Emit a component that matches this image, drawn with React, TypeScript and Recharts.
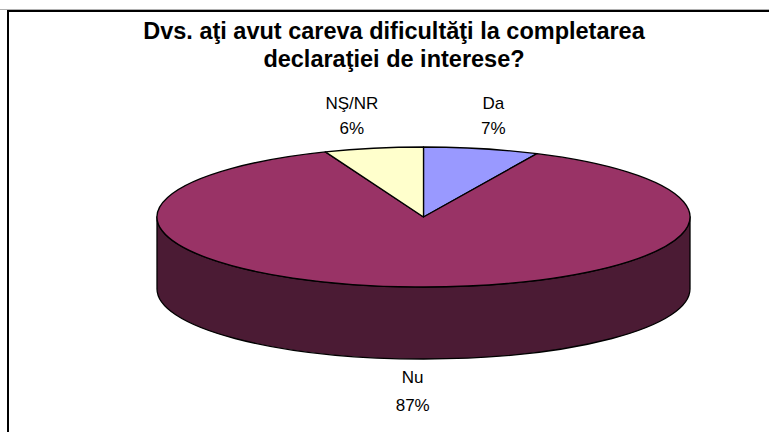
import React from "react";
import { PieChart, Pie } from "recharts";

const categories = ["Da", "Nu", "NŞ/NR"];
const values = [7, 87, 6];
const topColors = ["#9999FF", "#993366", "#FFFFCC"];
const sideColors = ["#4D4D80", "#4B1B34", "#808066"];

const titleLines = ["Dvs. aţi avut careva dificultăţi la completarea", "declaraţiei de interese?"];

const data = categories.map((name, i) => ({ name, value: values[i] }));

// 3D look: flatten the circle into an ellipse and hang a wall under the front half
const RATIO = 70 / 266.5;
const DEPTH = 72;
const FONT = '"Liberation Sans", Arial, sans-serif';

function pt(cx: number, cy: number, rx: number, deg: number, dy = 0) {
  const r = (deg * Math.PI) / 180;
  return `${cx + rx * Math.cos(r)},${cy - rx * RATIO * Math.sin(r) + dy}`;
}

function colorOf(props: any, list: string[]) {
  const idx = categories.indexOf(props.name ?? props.payload?.name);
  return list[idx < 0 ? 0 : idx];
}

function TopShape(props: any) {
  const { cx, cy, outerRadius, startAngle, endAngle } = props;
  const rx = outerRadius;
  const ry = outerRadius * RATIO;
  const large = Math.abs(startAngle - endAngle) > 180 ? 1 : 0;
  const sweep = startAngle > endAngle ? 1 : 0;
  const d = `M${cx},${cy} L${pt(cx, cy, rx, startAngle)} A${rx},${ry} 0 ${large} ${sweep} ${pt(cx, cy, rx, endAngle)} Z`;
  return <path d={d} fill={colorOf(props, topColors)} stroke="#000" strokeWidth={1.3} strokeLinejoin="round" />;
}

function SideShape(props: any) {
  const { cx, cy, outerRadius, startAngle, endAngle } = props;
  const rx = outerRadius;
  const ry = outerRadius * RATIO;
  const lo = Math.min(startAngle, endAngle);
  const hi = Math.max(startAngle, endAngle);
  const parts: string[] = [];
  for (let k = -2; k <= 2; k++) {
    const a = Math.max(lo, -180 + 360 * k);
    const b = Math.min(hi, 360 * k);
    if (b - a > 0.01) {
      parts.push(
        `M${pt(cx, cy, rx, b)} A${rx},${ry} 0 0 1 ${pt(cx, cy, rx, a)} L${pt(cx, cy, rx, a, DEPTH)} A${rx},${ry} 0 0 0 ${pt(cx, cy, rx, b, DEPTH)} Z`
      );
    }
  }
  if (!parts.length) return <g />;
  return <path d={parts.join(" ")} fill={colorOf(props, sideColors)} stroke="#000" strokeWidth={1.3} strokeLinejoin="round" />;
}

function renderLabel(props: any) {
  const { cx, cy, midAngle, outerRadius, name, value } = props;
  const r = (midAngle * Math.PI) / 180;
  const c = Math.cos(r);
  const s = Math.sin(r);
  const ex = cx + outerRadius * c;
  let ey = cy - outerRadius * RATIO * s;
  const valText = `${value}%`;
  const halfW = Math.max(String(name).length, valText.length) * 17 * 0.3;
  const x = ex + Math.max(-1, Math.min(1, c * 5)) * (4 + 0.75 * halfW);
  let nameY: number;
  let valY: number;
  if (s >= 0) {
    nameY = ey - 45;
    valY = ey - 20;
  } else {
    ey += DEPTH;
    nameY = ey + 19;
    valY = ey + 47;
  }
  return (
    <g>
      <text x={x} y={nameY} textAnchor="middle" dominantBaseline="central" fontSize={17} fontFamily={FONT} fill="#000">
        {name}
      </text>
      <text x={x} y={valY} textAnchor="middle" dominantBaseline="central" fontSize={17} fontFamily={FONT} fill="#000">
        {valText}
      </text>
    </g>
  );
}

export default function App() {
  const sideProps: any = { shape: SideShape, activeShape: SideShape };
  const topProps: any = { shape: TopShape, activeShape: TopShape };
  return (
    <div style={{ position: "relative", width: 769, height: 432, background: "#fff", overflow: "hidden", fontFamily: FONT }}>
      <style>{`body{margin:0}`}</style>
      <div style={{ position: "absolute", left: 0, top: 9, width: 769, height: 1, background: "#b0b0b0" }} />
      <div
        style={{
          position: "absolute",
          left: 7,
          top: 10,
          width: 780,
          height: 440,
          borderLeft: "2px solid #000",
          borderTop: "2px solid #000",
        }}
      />
      <div style={{ position: "absolute", left: 0, top: 0 }}>
        <PieChart width={769} height={432} margin={{ top: 0, right: 0, bottom: 0, left: 0 }}>
          <Pie
            data={data}
            dataKey="value"
            nameKey="name"
            cx={423.5}
            cy={217}
            outerRadius={266.5}
            startAngle={90}
            endAngle={-270}
            {...sideProps}
            isAnimationActive={false}
            label={false}
            labelLine={false}
          />
          <Pie
            data={data}
            dataKey="value"
            nameKey="name"
            cx={423.5}
            cy={217}
            outerRadius={266.5}
            startAngle={90}
            endAngle={-270}
            {...topProps}
            isAnimationActive={false}
            label={renderLabel}
            labelLine={false}
          />
        </PieChart>
      </div>
      <div
        style={{
          position: "absolute",
          left: 44,
          top: 17,
          width: 700,
          textAlign: "center",
          fontSize: 23.5,
          lineHeight: "28px",
          fontWeight: "bold",
          color: "#000",
        }}
      >
        {titleLines.map((t) => (
          <div key={t}>{t}</div>
        ))}
      </div>
    </div>
  );
}
